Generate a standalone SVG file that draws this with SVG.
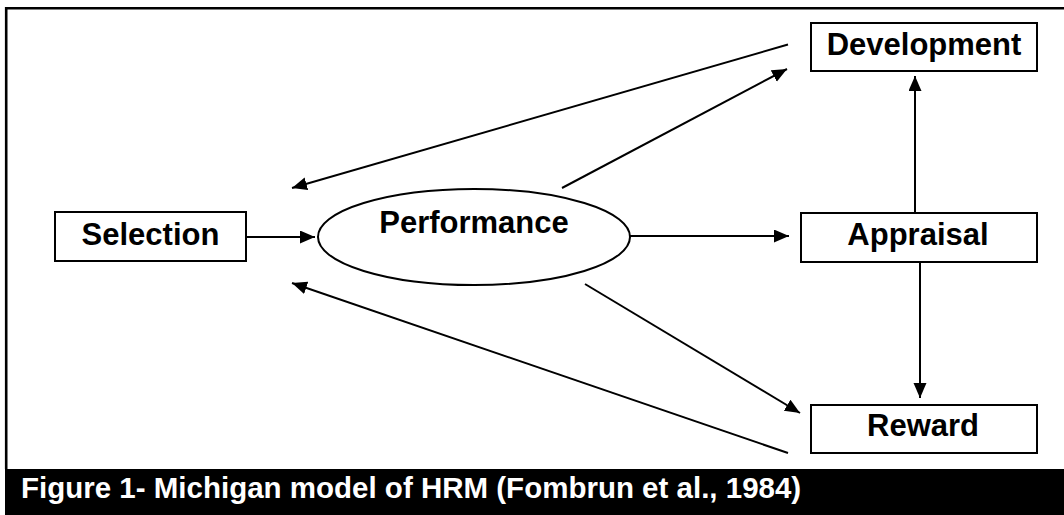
<svg xmlns="http://www.w3.org/2000/svg" width="1064" height="515" viewBox="0 0 1064 515">
<style>
.box{fill:#fff;stroke:#000;stroke-width:2}
.lbl{font-family:"Liberation Sans",Arial,sans-serif;font-weight:bold;font-size:31px;fill:#000;text-anchor:middle}
.ln{stroke:#000;stroke-width:2;fill:none}
.arr{marker-end:url(#ah)}
</style>
<defs>
<marker id="ah" markerUnits="userSpaceOnUse" markerWidth="16" markerHeight="14" refX="15" refY="6.5" orient="auto">
<path d="M0,0 L15,6.5 L0,13 z" fill="#000"/>
</marker>
</defs>
<rect x="0" y="0" width="1064" height="515" fill="#fff"/>
<g id="frame">
<path d="M6.2,469 V8.3 H1066" fill="none" stroke="#000" stroke-width="2.6"/>
<rect x="5" y="469" width="1059" height="46" fill="#000"/>
<text x="21" y="498" font-family="Liberation Sans,Arial,sans-serif" font-weight="bold" font-size="29.5" fill="#fff">Figure 1- Michigan model of HRM (Fombrun et al., 1984)</text>
</g>
<g id="connectors">
<line class="ln arr" x1="246" y1="237" x2="315" y2="237"/>
<line class="ln arr" x1="630" y1="236" x2="789" y2="236"/>
<line class="ln arr" x1="915" y1="213" x2="915" y2="76"/>
<line class="ln arr" x1="920" y1="262" x2="920" y2="398"/>
<line class="ln arr" x1="562" y1="188" x2="787" y2="69"/>
<line class="ln arr" x1="585" y1="284" x2="800" y2="413"/>
<line class="ln arr" x1="788" y1="44.5" x2="292" y2="188"/>
<line class="ln arr" x1="788" y1="453" x2="292" y2="283"/>
</g>
<g id="selection">
<rect class="box" x="55" y="212" width="191" height="49"/>
<text class="lbl" x="150.5" y="245">Selection</text>
</g>
<g id="performance">
<ellipse cx="474" cy="237" rx="156" ry="48" fill="#fff" stroke="#000" stroke-width="2"/>
<text class="lbl" x="474" y="233">Performance</text>
</g>
<g id="development">
<rect class="box" x="811" y="23" width="226" height="48"/>
<text class="lbl" x="924" y="55">Development</text>
</g>
<g id="appraisal">
<rect class="box" x="801" y="213" width="236" height="49"/>
<text class="lbl" x="918" y="245">Appraisal</text>
</g>
<g id="reward">
<rect class="box" x="811" y="405" width="226" height="48"/>
<text class="lbl" x="923" y="436">Reward</text>
</g>
</svg>
